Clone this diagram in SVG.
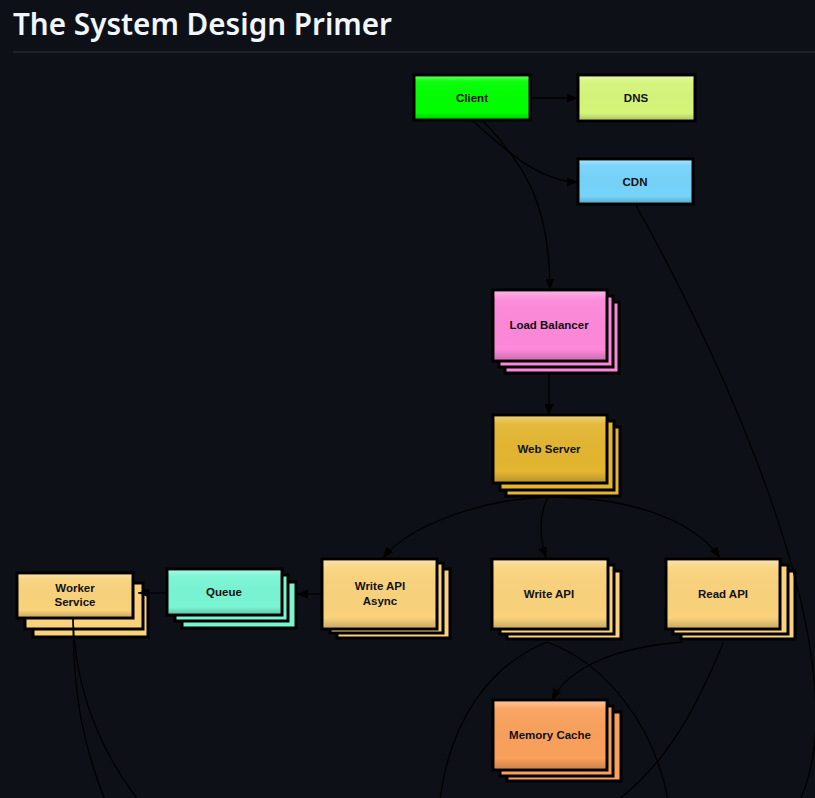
<svg xmlns="http://www.w3.org/2000/svg" width="815" height="798" viewBox="0 0 815 798">
  <style>
    .title { font-family: "Noto Sans", "Open Sans", "Liberation Sans", sans-serif; font-weight: 600; font-size: 31px; fill: #f0f6fc; }
    .box { stroke: #000; stroke-width: 3; stroke-linejoin: miter; }
    .gloss { fill: url(#gloss); stroke: none; }
    .lbl { font-family: "Liberation Sans", "DejaVu Sans", sans-serif; font-weight: bold; font-size: 11.5px; fill: #111; text-anchor: middle; dominant-baseline: central; }
    .c-client { fill: #00ff00; }
    .c-dns { fill: #d5f57a; }
    .c-cdn { fill: #76d3fa; }
    .c-lb { fill: #fd88d9; }
    .c-web { fill: #e3b530; }
    .c-api { fill: #f9d27b; }
    .c-queue { fill: #79f5d3; }
    .c-cache { fill: #f9a05b; }
    .edge { fill: none; stroke: #000; stroke-width: 1.3; }
    .arrow { marker-end: url(#arr); }
  </style>
  <defs>
    <linearGradient id="gloss" x1="0" y1="0" x2="0" y2="1">
      <stop offset="0" stop-color="#fff" stop-opacity="0.35"/>
      <stop offset="0.12" stop-color="#fff" stop-opacity="0.05"/>
      <stop offset="0.85" stop-color="#000" stop-opacity="0"/>
      <stop offset="1" stop-color="#000" stop-opacity="0.18"/>
    </linearGradient>
    <marker id="arr" viewBox="0 0 11 9" refX="11" refY="4.5" markerWidth="11" markerHeight="9" markerUnits="userSpaceOnUse" orient="auto">
      <path d="M0,0 L11,4.5 L0,9 z" fill="#000"/>
    </marker>
  </defs>

  <rect x="0" y="0" width="815" height="798" fill="#0d1117"/>
  <text class="title" x="13" y="35" textLength="379" lengthAdjust="spacingAndGlyphs">The System Design Primer</text>
  <rect x="13" y="51.5" width="802" height="1" fill="#30363d"/>

  <g id="node-client">
    <rect class="box c-client" x="414" y="75" width="116" height="45"/>
    <rect class="gloss" x="415.5" y="76.5" width="113" height="42"/>
    <text class="lbl" x="472" y="98">Client</text>
  </g>

  <g id="node-dns">
    <rect class="box c-dns" x="578" y="75" width="117" height="46"/>
    <rect class="gloss" x="579.5" y="76.5" width="114" height="43"/>
    <text class="lbl" x="636" y="98">DNS</text>
  </g>

  <g id="node-cdn">
    <rect class="box c-cdn" x="578" y="159" width="115" height="45"/>
    <rect class="gloss" x="579.5" y="160.5" width="112" height="42"/>
    <text class="lbl" x="635" y="182">CDN</text>
  </g>

  <g id="node-lb">
    <rect class="box c-lb" x="505" y="302" width="114" height="71"/>
    <rect class="box c-lb" x="499" y="296" width="114" height="71"/>
    <rect class="box c-lb" x="493" y="290" width="114" height="71"/>
    <rect class="gloss" x="494.5" y="291.5" width="111" height="68"/>
    <text class="lbl" x="549" y="325">Load Balancer</text>
  </g>

  <g id="node-web">
    <rect class="box c-web" x="506" y="427" width="114" height="69"/>
    <rect class="box c-web" x="500" y="421" width="114" height="69"/>
    <rect class="box c-web" x="493" y="415" width="114" height="68"/>
    <rect class="gloss" x="494.5" y="416.5" width="111" height="65"/>
    <text class="lbl" x="549" y="449">Web Server</text>
  </g>

  <g id="node-write-async">
    <rect class="box c-api" x="337" y="569" width="113" height="69"/>
    <rect class="box c-api" x="330" y="563" width="113" height="70"/>
    <rect class="box c-api" x="322" y="559" width="115" height="70"/>
    <rect class="gloss" x="323.5" y="560.5" width="112" height="67"/>
    <text class="lbl" x="380" y="586">Write API</text>
    <text class="lbl" x="380" y="601">Async</text>
  </g>

  <g id="node-write">
    <rect class="box c-api" x="507" y="571" width="114" height="68"/>
    <rect class="box c-api" x="500" y="565" width="114" height="69"/>
    <rect class="box c-api" x="492" y="559" width="116" height="70"/>
    <rect class="gloss" x="493.5" y="560.5" width="113" height="67"/>
    <text class="lbl" x="549" y="594">Write API</text>
  </g>

  <g id="node-read">
    <rect class="box c-api" x="681" y="571" width="114" height="68"/>
    <rect class="box c-api" x="673" y="565" width="115" height="69"/>
    <rect class="box c-api" x="666" y="559" width="114" height="70"/>
    <rect class="gloss" x="667.5" y="560.5" width="111" height="67"/>
    <text class="lbl" x="723" y="594">Read API</text>
  </g>

  <g id="node-queue">
    <rect class="box c-queue" x="182" y="582" width="114" height="46"/>
    <rect class="box c-queue" x="175" y="575" width="113" height="46"/>
    <rect class="box c-queue" x="167" y="569" width="115" height="46"/>
    <rect class="gloss" x="168.5" y="570.5" width="112" height="43"/>
    <text class="lbl" x="224" y="592">Queue</text>
  </g>

  <g id="node-worker">
    <rect class="box c-api" x="33" y="591" width="115" height="46"/>
    <rect class="box c-api" x="25" y="583" width="118" height="46"/>
    <rect class="box c-api" x="17" y="573" width="116" height="45"/>
    <rect class="gloss" x="18.5" y="574.5" width="113" height="42"/>
    <text class="lbl" x="75" y="588">Worker</text>
    <text class="lbl" x="75" y="602">Service</text>
  </g>

  <g id="node-cache">
    <rect class="box c-cache" x="507" y="712" width="114" height="69"/>
    <rect class="box c-cache" x="500" y="706" width="113" height="70"/>
    <rect class="box c-cache" x="493" y="700" width="114" height="70"/>
    <rect class="gloss" x="494.5" y="701.5" width="111" height="67"/>
    <text class="lbl" x="550" y="735">Memory Cache</text>
  </g>

  <g id="connectors">
    <path class="edge arrow" d="M530,98 L578,98"/>
    <path class="edge arrow" d="M473,121 C505,150 540,182 578,182"/>
    <path class="edge arrow" d="M483,121 C525,165 550,205 550,290"/>
    <path class="edge" d="M635,204 C690,300 870,650 800,800"/>
    <path class="edge arrow" d="M549,373 L549,415"/>
    <path class="edge arrow" d="M545,497 C480,500 410,525 383,558"/>
    <path class="edge arrow" d="M548,497 C538,515 540,540 546,558"/>
    <path class="edge arrow" d="M548,497 C620,497 690,515 720,558"/>
    <path class="edge arrow" d="M322,594 L297,594"/>
    <path class="edge arrow" d="M167,593 L138,593"/>
    <path class="edge arrow" d="M683,642 C620,647 570,665 552,700"/>
    <path class="edge" d="M723,643 C700,700 670,760 618,800"/>
    <path class="edge" d="M547,642 C490,665 450,720 440,800"/>
    <path class="edge" d="M547,642 C610,665 655,730 668,800"/>
    <path class="edge" d="M73,618 C73,700 85,750 105,800"/>
    <path class="edge" d="M73,618 C75,690 100,750 138,800"/>
  </g>
</svg>
